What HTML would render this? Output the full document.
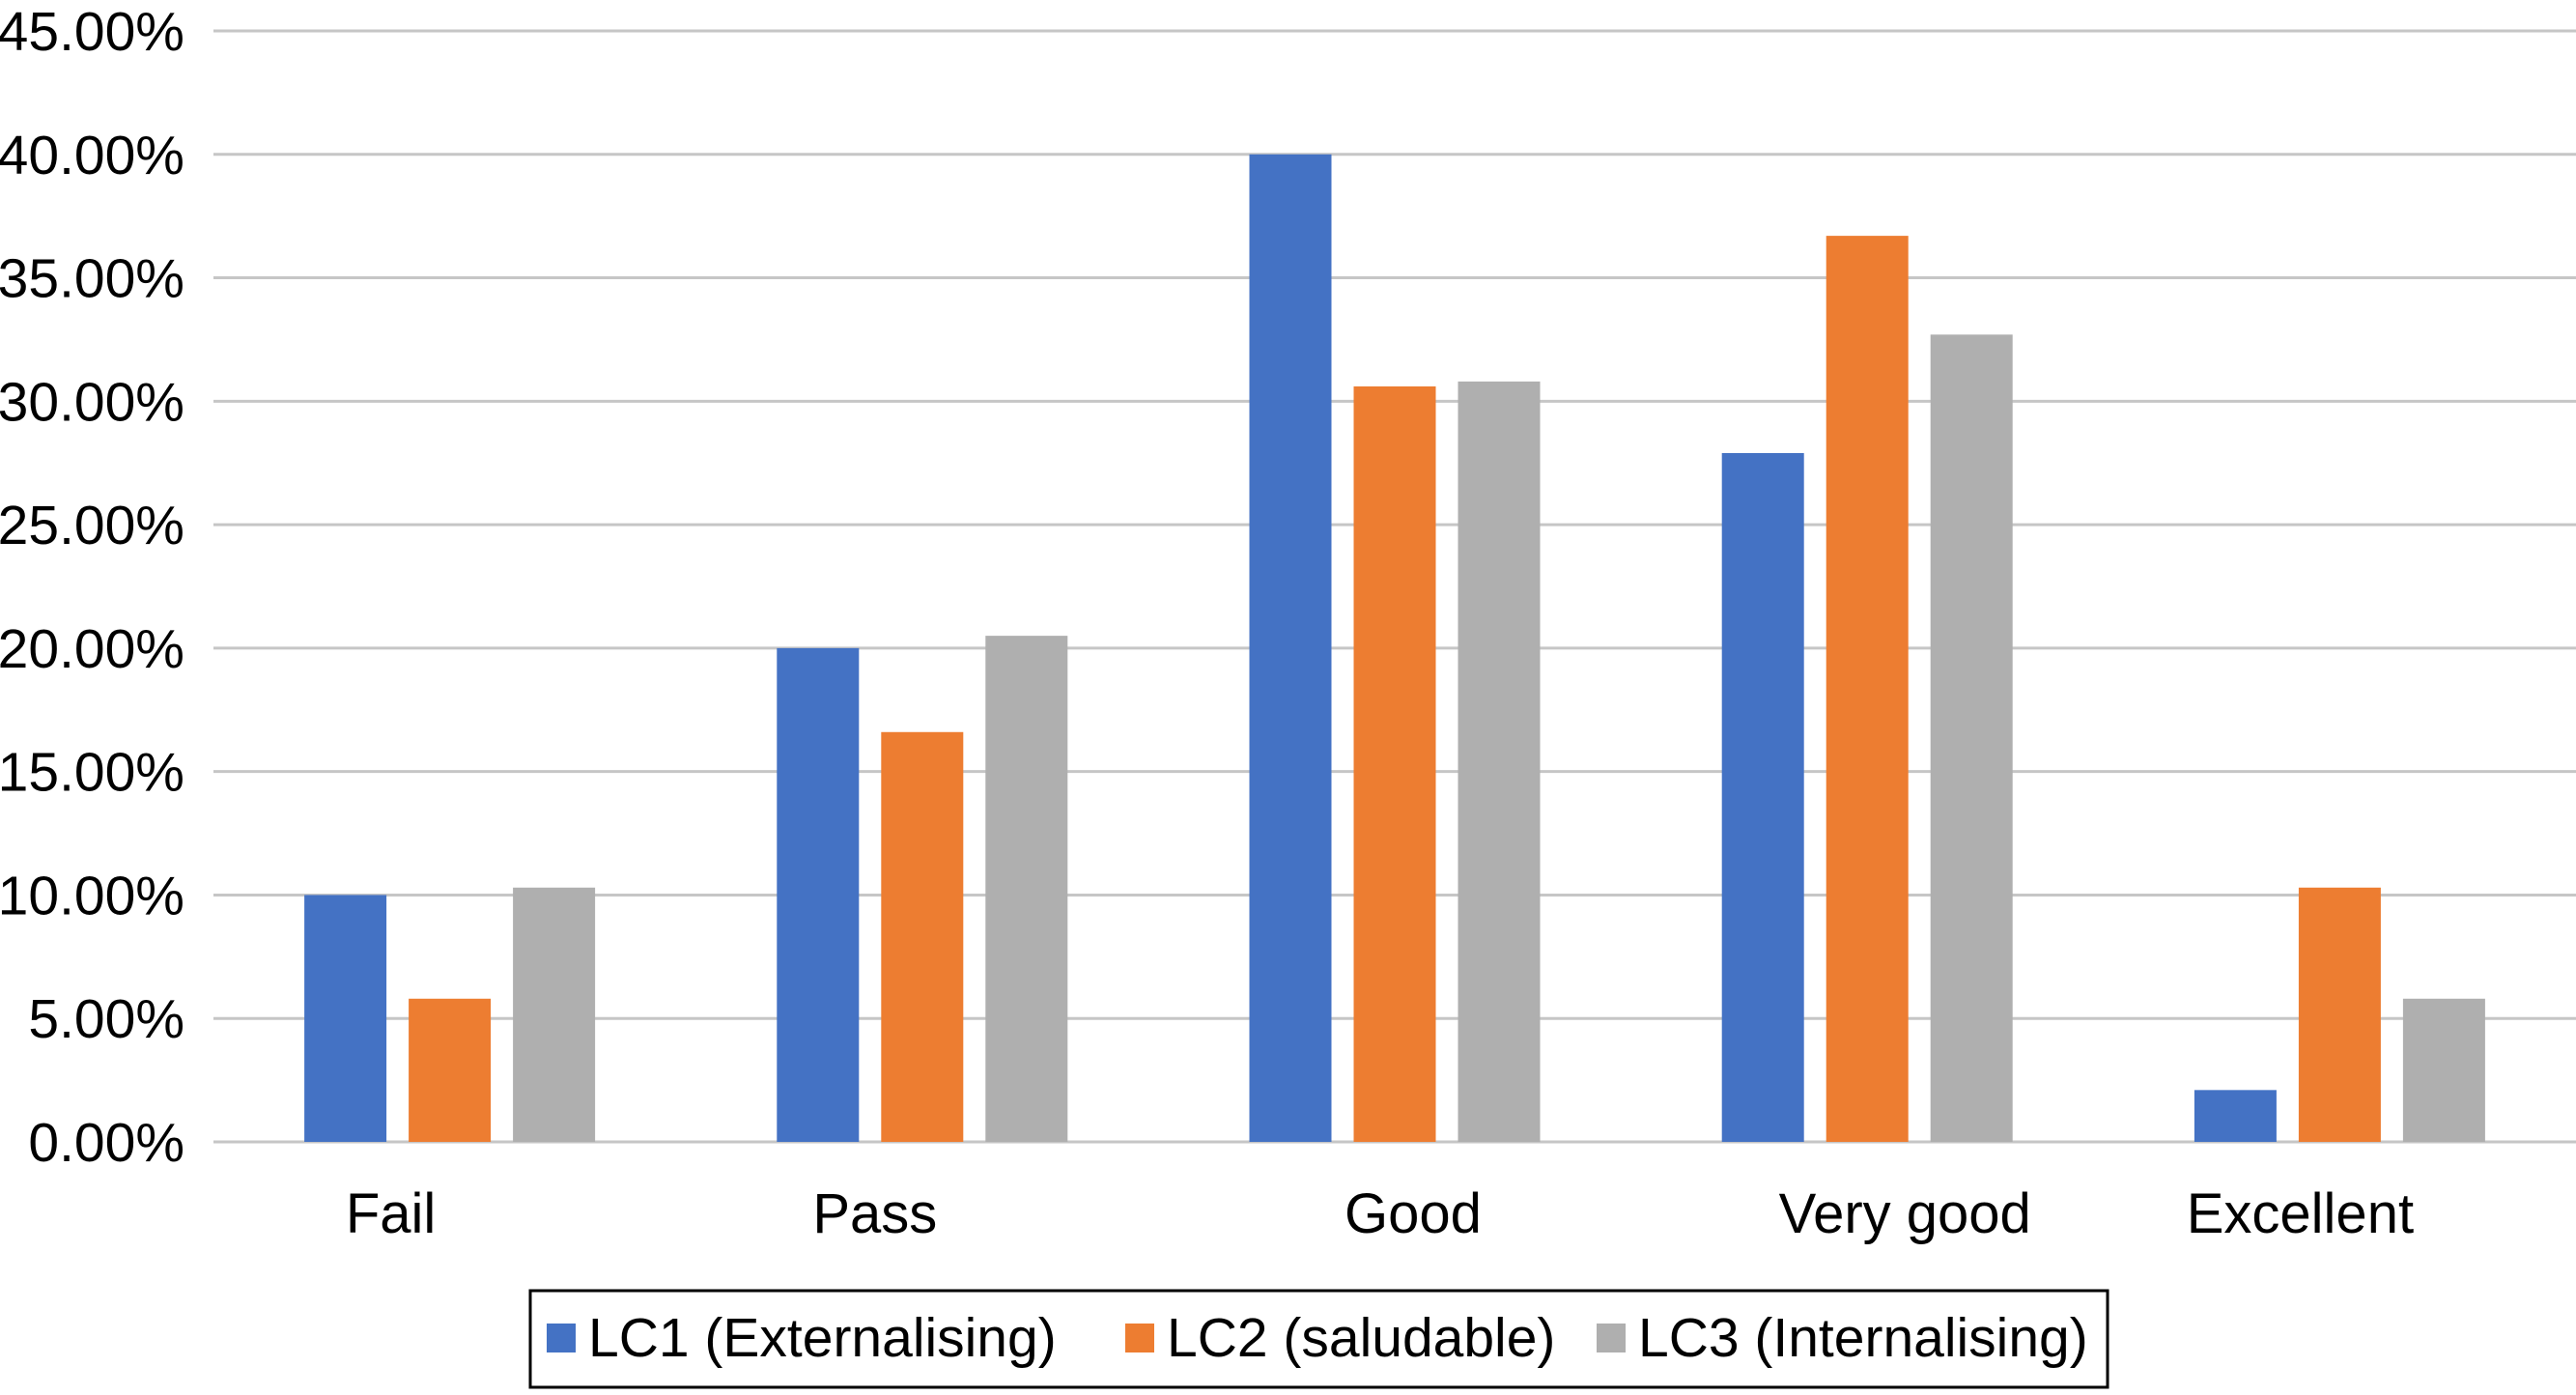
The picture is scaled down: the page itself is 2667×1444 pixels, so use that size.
<!DOCTYPE html>
<html><head><meta charset="utf-8">
<style>
html,body{margin:0;padding:0;background:#fff;}
body{width:2667px;height:1439px;overflow:hidden;font-family:"Liberation Sans",Arial,sans-serif;}
svg text{font-family:"Liberation Sans",Arial,sans-serif;fill:#000;}
</style></head>
<body>
<svg id="chart" width="2667" height="1439" xmlns="http://www.w3.org/2000/svg">
<g id="grid"></g>
<g id="yticks"></g>
<g id="bars"></g>
<g id="xlabels"></g>
<g id="legend"></g>
</svg>
<script>
const categories = ["Fail","Pass","Good","Very good","Excellent"];
const lc1 = [10.0, 20.0, 40.0, 27.9, 2.1];
const lc2 = [5.8, 16.6, 30.6, 36.7, 10.3];
const lc3 = [10.3, 20.5, 30.8, 32.7, 5.8];
const seriesNames = ["LC1 (Externalising)","LC2 (saludable)","LC3 (Internalising)"];
const yTicks = [0,5,10,15,20,25,30,35,40,45];

const colors = ["#4472C4","#ED7D31","#AFAFAF"];
const series = [lc1, lc2, lc3];
const labelShift = [-61,-49,19,39,-41];
const NS = "http://www.w3.org/2000/svg";
const plotL = 221, plotR = 2667, y0 = 1182, y45 = 32;
const yScale = v => y0 - (v/45)*(y0-y45);
const groupW = (plotR-plotL)/categories.length;
const xCenter = i => plotL + groupW*(i+0.5);
const barW = 85, step = 108;

function mk(tag, attrs, parent){const e=document.createElementNS(NS,tag);for(const k in attrs)e.setAttribute(k,attrs[k]);parent.appendChild(e);return e;}

const grid=document.getElementById('grid'), yt=document.getElementById('yticks');
yTicks.forEach(t=>{
  const y=yScale(t);
  const l=mk('line',{x1:plotL,x2:plotR,y1:y,y2:y,stroke:'#c6c6c6','stroke-width':3},grid);
  
  
  const tx=mk('text',{x:191,y:y+20,'text-anchor':'end','font-size':57},yt);
  tx.textContent=t.toFixed(2)+'%';
  
  
});

const bars=document.getElementById('bars'), xl=document.getElementById('xlabels');
categories.forEach((c,i)=>{
  const cx=xCenter(i);
  series.forEach((s,j)=>{
    const x=cx+(j-1)*step-barW/2;
    const y=yScale(s[i]);
    const r=mk('rect',{x:x,y:y,width:barW,height:y0-y,fill:colors[j]},bars);
    
    
  });
  const t=mk('text',{x:cx+labelShift[i],y:1276,'text-anchor':'middle','font-size':58},xl);
  t.textContent=c;
  
  
});

const lg=document.getElementById('legend');
const box=mk('rect',{x:549,y:1336,width:1633,height:100,fill:'#fff',stroke:'#000','stroke-width':3},lg);


const lx=[566,1165,1653];
seriesNames.forEach((n,j)=>{
  const sw=mk('rect',{x:lx[j],y:1370,width:30,height:30,fill:colors[j]},lg);
  
  
  const t=mk('text',{x:lx[j]+43,y:1404,'font-size':57},lg);
  t.textContent=n;
  
  
});
</script>
</body></html>
